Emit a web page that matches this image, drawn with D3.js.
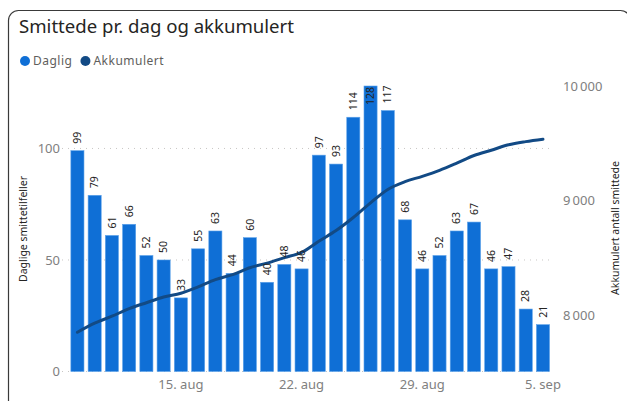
<!DOCTYPE html>
<html>
<head>
<meta charset="utf-8">
<script src="https://cdn.jsdelivr.net/npm/d3@7"></script>
<style>
  html, body { margin: 0; padding: 0; background: #fff; }
  svg { display: block; }
</style>
</head>
<body>
<div id="chart"></div>
<script>
// dates 9. aug - 5. sep
const dates = d3.range(28).map(i => new Date(2021, 7, 9 + i))
const daily = [99, 79, 61, 66, 52, 50, 33, 55, 63, 44, 60, 40, 48, 46, 97, 93, 114, 128, 117, 68, 46, 52, 63, 67, 46, 47, 28, 21]
const accumulated = [7852, 7931, 7992, 8058, 8110, 8160, 8193, 8248, 8311, 8355, 8415, 8455, 8503, 8549, 8646, 8739, 8853, 8981, 9098, 9166, 9212, 9264, 9327, 9394, 9440, 9487, 9515, 9536]
const leftTicks = [0, 50, 100]
const rightTicks = [8000, 9000, 10000]
const xTickLabels = ["15. aug", "22. aug", "29. aug", "5. sep"]
const xTickIdx = [6, 13, 20, 27]

const width = 627
const height = 401
const barColor = "#0f6fd6"
const lineColor = "#124a85"
const font = "'Noto Sans', sans-serif"

const svg = d3.select("#chart").append("svg")
  .attr("width", width)
  .attr("height", height)

// card
svg.append("rect")
  .attr("x", 8.5).attr("y", 10.5)
  .attr("width", 622).attr("height", 410)
  .attr("rx", 10)
  .attr("fill", "#fff")
  .attr("stroke", "#3a3a3a")
  .attr("stroke-width", 1.2)

svg.append("text")
  .attr("x", 19).attr("y", 33)
  .attr("font-family", font)
  .attr("font-size", 18.6)
  .attr("fill", "#252423")
  .text("Smittede pr. dag og akkumulert")

// legend
const legend = [["Daglig", barColor], ["Akkumulert", lineColor]]
let lx = 25
legend.forEach(([name, c]) => {
  svg.append("circle").attr("cx", lx).attr("cy", 61).attr("r", 5).attr("fill", c)
  const t = svg.append("text")
    .attr("x", lx + 8).attr("y", 65)
    .attr("font-family", font).attr("font-size", 12)
    .attr("letter-spacing", 0.5)
    .attr("fill", "#605e5c")
    .text(name)
  lx += t.node().getComputedTextLength() + 21
})

const plotRight = 552, plotTop = 86, plotBottom = 371.5

const x = d3.scaleBand()
  .domain(dates.map((d, i) => i))
  .range([68.8, 551.6])
  .paddingInner(0.24)
  .paddingOuter(0.12)

const y = d3.scaleLinear().domain([0, 128]).range([plotBottom, plotTop])
const y2 = d3.scaleLinear().domain([7510, 10000]).range([plotBottom, plotTop])

// gridlines
svg.append("g").selectAll("line")
  .data(leftTicks)
  .enter().append("line")
  .attr("x1", 62).attr("x2", plotRight)
  .attr("y1", d => y(d)).attr("y2", d => y(d))
  .attr("stroke", "#c8c6c4")
  .attr("stroke-width", 1)
  .attr("stroke-dasharray", "1,5")

// left axis
const yAxis = svg.append("g")
  .attr("transform", `translate(60,0)`)
  .call(d3.axisLeft(y).tickValues(leftTicks).tickSize(0).tickPadding(0))
yAxis.select(".domain").remove()
yAxis.selectAll("text")
  .attr("font-family", font).attr("font-size", 13)
  .attr("fill", "#808080")

// right axis
const y2Axis = svg.append("g")
  .attr("transform", `translate(563,0)`)
  .call(d3.axisRight(y2).tickValues(rightTicks).tickSize(0).tickPadding(0)
    .tickFormat(d => d3.format(",")(d).replace(",", "\u2009")))
y2Axis.select(".domain").remove()
y2Axis.selectAll("text")
  .attr("font-family", font).attr("font-size", 13)
  .attr("fill", "#808080")

// x axis
const xAxis = svg.append("g")
  .attr("transform", `translate(0,${plotBottom + 8})`)
  .call(d3.axisBottom(x).tickValues(xTickIdx).tickSize(0).tickPadding(0)
    .tickFormat((d, i) => xTickLabels[i]))
xAxis.select(".domain").remove()
xAxis.selectAll("text")
  .attr("font-family", font).attr("font-size", 13)
  .attr("fill", "#808080")
  .attr("dy", "0.71em")

// axis titles
svg.append("text")
  .attr("transform", `translate(27,229) rotate(-90)`)
  .attr("text-anchor", "middle")
  .attr("font-family", font).attr("font-size", 10.5)
  .attr("fill", "#252423")
  .text("Daglige smittetilfeller")

svg.append("text")
  .attr("transform", `translate(619,228) rotate(-90)`)
  .attr("text-anchor", "middle")
  .attr("font-family", font).attr("font-size", 10.5)
  .attr("fill", "#252423")
  .text("Akkumulert antall smittede")

// bars
svg.append("g").selectAll("rect")
  .data(daily)
  .enter().append("rect")
  .attr("x", (d, i) => x(i))
  .attr("width", x.bandwidth())
  .attr("y", d => y(d))
  .attr("height", d => plotBottom - y(d))
  .attr("fill", barColor)
  .attr("stroke", "#5da2ea")
  .attr("stroke-width", 0.6)

// line
const line = d3.line()
  .x((d, i) => x(i) + x.bandwidth() / 2)
  .y(d => y2(d))
  .curve(d3.curveMonotoneX)

svg.append("path")
  .datum(accumulated)
  .attr("d", line)
  .attr("fill", "none")
  .attr("stroke", lineColor)
  .attr("stroke-width", 3)
  .attr("stroke-linecap", "round")

// bar labels
svg.append("g").selectAll("text")
  .data(daily)
  .enter().append("text")
  .attr("transform", (d, i) => {
    const cx = x(i) + x.bandwidth() / 2
    const top = y(d)
    const inside = top - 24 < plotTop - 2
    const yy = inside ? plotTop + 1 : top - 7
    return `translate(${cx},${yy}) rotate(-90)`
  })
  .attr("text-anchor", d => (y(d) - 24 < plotTop - 2) ? "end" : "start")
  .attr("dy", "0.35em")
  .attr("font-family", font).attr("font-size", 10.5)
  .attr("fill", "#252423")
  .text(d => d)
</script>
</body>
</html>
